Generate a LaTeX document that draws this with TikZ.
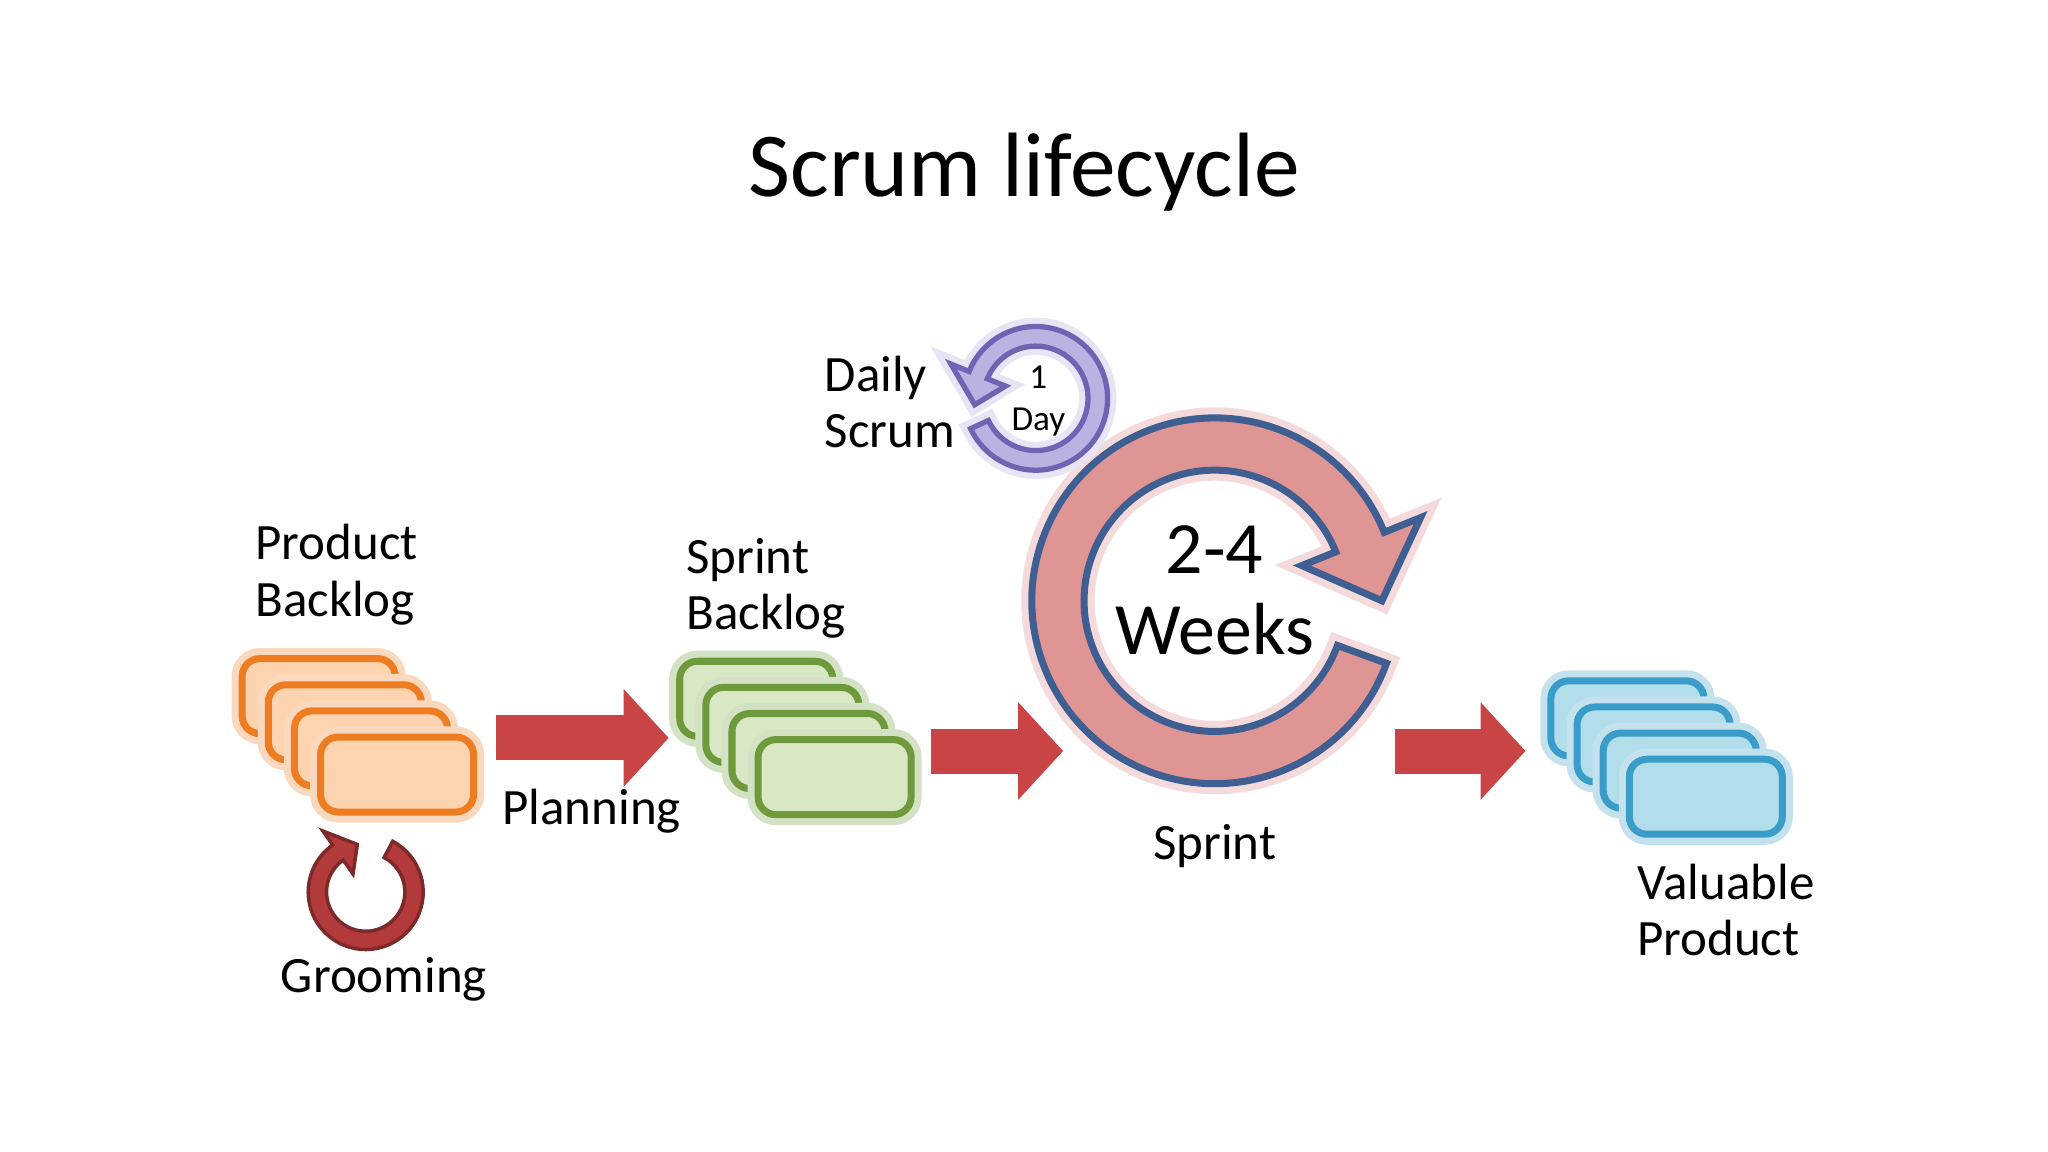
\documentclass[tikz,border=0pt]{standalone}
\usepackage{fontspec}
\setmainfont{Carlito}
\usetikzlibrary{calc,arrows.meta}

\definecolor{pbFill}{HTML}{FDD3B0}
\definecolor{pbLine}{HTML}{EE7D22}
\definecolor{sbFill}{HTML}{D9E8C4}
\definecolor{sbLine}{HTML}{6E9A3C}
\definecolor{vpFill}{HTML}{B2DDEA}
\definecolor{vpLine}{HTML}{3A9CC8}
\definecolor{arrFill}{HTML}{C94545}
\definecolor{ringFill}{HTML}{E09595}
\definecolor{ringLine}{HTML}{3F5F92}
\definecolor{dayFill}{HTML}{B9B3E2}
\definecolor{dayLine}{HTML}{7163B3}
\definecolor{groomFill}{HTML}{B23A3A}

\tikzset{
  card/.style 2 args={draw=#2, fill=#1, line width=2pt, rounded corners=5pt,
    minimum width=1.53cm, minimum height=0.75cm,
    preaction={draw=#2!30, line width=6pt}},
  label/.style={align=left, font=\fontsize{14.5}{16}\selectfont},
  flow/.style={draw=arrFill, line width=0.45cm,
    -{Triangle[length=0.45cm,width=0.95cm]}},
}

\begin{document}
\begin{tikzpicture}[x=0.01306cm, y=0.01306cm]
  \useasboundingbox (0,0) rectangle (1568,882);

  \node (title) at (784,750) {\fontsize{26}{30}\selectfont Scrum lifecycle};

  % backlogs and product
  \foreach \i in {1,...,4} {
    \node[card={pbFill}{pbLine}] (pb\i) at ({244+20*(\i-1)},{349-20*(\i-1)}) {};
    \node[card={sbFill}{sbLine}] (sb\i) at ({579+20*(\i-1)},{347-20*(\i-1)}) {};
    \node[card={vpFill}{vpLine}] (vp\i) at ({1246+20*(\i-1)},{332-20*(\i-1)}) {};
  }
  \node[label, anchor=south west] (pbText) at (186,394) {Product\\Backlog};
  \node[label, anchor=south west] (sbText) at (516,384) {Sprint\\Backlog};
  \node[label, anchor=north west] (vpText) at (1244,230) {Valuable\\Product};

  % flow arrows
  \coordinate (planS) at (380,317);
  \coordinate (planE) at (512,317);
  \coordinate (goS)   at (713,307);
  \coordinate (goE)   at (814,307);
  \coordinate (doneS) at (1068,307);
  \coordinate (doneE) at (1168,307);
  \draw[flow] (planS) -- (planE);
  \draw[flow] (goS) -- (goE);
  \draw[flow] (doneS) -- (doneE);
  \node[label] (planText) at (453,261) {Planning};

  % sprint ring
  \coordinate (sp) at (930,422);
  \filldraw[fill=ringFill, draw=ringLine, line width=2pt,
      preaction={draw=ringFill!35, line width=6pt}]
    ($(sp)+(-20:140)$) arc[start angle=-20, end angle=-338, radius=140]
    -- ($(sp)+(22:170)$) -- ($(sp)+(0:128)$) -- ($(sp)+(22:72)$)
    -- ($(sp)+(22:100)$) arc[start angle=-338, end angle=-20, radius=100] -- cycle;
  \node[align=center, font=\fontsize{21}{23}\selectfont] (weeks) at (930,430) {2-4\\Weeks};
  \node[label] (spText) at (930,234) {Sprint};

  % daily ring
  \coordinate (dy) at (793,577);
  \filldraw[fill=dayFill, draw=dayLine, line width=1.5pt,
      preaction={draw=dayFill!35, line width=5pt}]
    ($(dy)+(205:55)$) arc[start angle=205, end angle=518, radius=55]
    -- ($(dy)+(158:70)$) -- ($(dy)+(186:47)$) -- ($(dy)+(158:25)$)
    -- ($(dy)+(158:40)$) arc[start angle=518, end angle=205, radius=40] -- cycle;
  \node[align=center, font=\fontsize{10}{12}\selectfont] (day) at (795,575) {1\\Day};
  \node[label, anchor=west] (dyText) at (622,574) {Daily\\Scrum};

  % grooming ring
  \coordinate (gr) at (280,199);
  \filldraw[fill=groomFill, draw=groomFill!70!black, line width=1pt]
    ($(gr)+(62:44)$) arc[start angle=62, end angle=-235, radius=44]
    -- ($(gr)+(125:57)$) -- ($(gr)+(100:37)$) -- ($(gr)+(125:17)$)
    -- ($(gr)+(125:30)$) arc[start angle=-235, end angle=62, radius=30] -- cycle;
  \node[label] (grText) at (294,132) {Grooming};
\end{tikzpicture}
\end{document}
